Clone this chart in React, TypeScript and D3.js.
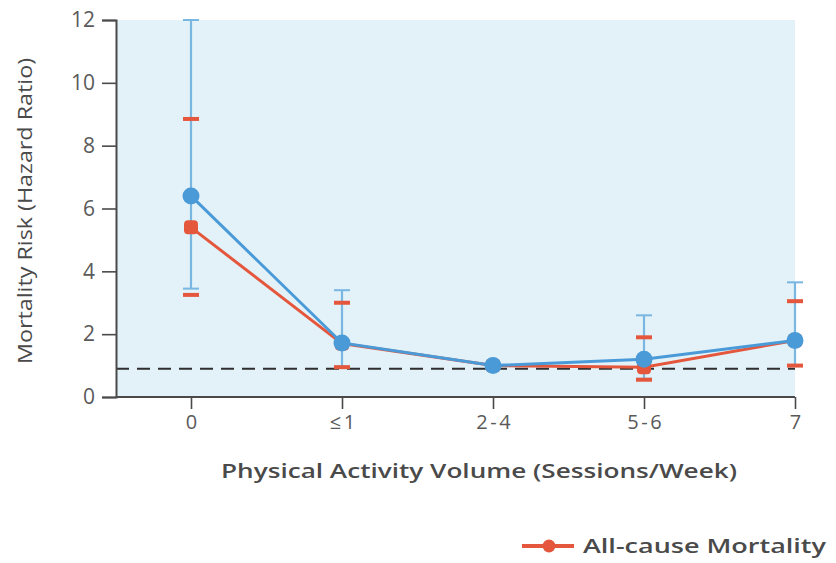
import React, { useEffect, useRef } from 'react';
import * as d3 from 'd3';

const categories = ['0', '≤1', '2-4', '5-6', '7'];
const yTicks = [0, 2, 4, 6, 8, 10, 12];

// red series (all-cause mortality)
const redHR = [5.4, 1.7, 1.0, 0.95, 1.8];
const redLow = [3.25, 0.95, null, 0.55, 1.0];
const redHigh = [8.85, 3.0, null, 1.9, 3.05];

// blue series
const blueHR = [6.4, 1.72, 1.0, 1.2, 1.8];
const blueLow = [3.45, 0.97, null, 0.58, 1.0];
const blueHigh = [12, 3.4, null, 2.6, 3.65];

const refLine = 0.9;

const W = 836;
const H = 563;

const RED = '#e4573d';
const BLUE = '#4b9ad8';
const BLUE_ERR = '#7ab6e2';
const AXIS = '#4a4a4a';
const FONT = '"Open Sans", "Noto Sans", sans-serif';

const App: React.FC = () => {
  const svgRef = useRef<SVGSVGElement | null>(null);

  useEffect(() => {
    if (!svgRef.current) return;
    const svg = d3.select(svgRef.current);
    svg.selectAll('*').remove();

    const x = d3.scalePoint<string>().domain(categories).range([191, 795]);
    const y = d3.scaleLinear().domain([0, 12]).range([397, 20]);

    // plot background
    svg
      .append('rect')
      .attr('x', 116)
      .attr('y', y(12))
      .attr('width', 795 - 116)
      .attr('height', y(0) - y(12))
      .attr('fill', '#e3f2f8');

    // reference line
    svg
      .append('line')
      .attr('x1', 116)
      .attr('x2', 795)
      .attr('y1', y(refLine))
      .attr('y2', y(refLine))
      .attr('stroke', '#2e2e2e')
      .attr('stroke-width', 1.8)
      .attr('stroke-dasharray', '13,8');

    // y axis
    const yAxis = svg
      .append('g')
      .attr('transform', 'translate(116,0)')
      .call(d3.axisLeft(y).tickValues(yTicks).tickSize(14).tickPadding(7));
    yAxis.select('.domain').attr('stroke', AXIS).attr('stroke-width', 2);
    yAxis.selectAll('.tick line').attr('stroke', AXIS).attr('stroke-width', 1.6);
    yAxis
      .selectAll('.tick text')
      .attr('fill', '#5a5a5a')
      .attr('font-size', 21)
      .attr('font-family', FONT);

    // x axis
    const xAxis = svg
      .append('g')
      .attr('transform', `translate(0,${y(0)})`)
      .call(d3.axisBottom(x).tickSize(12).tickPadding(6).tickSizeOuter(0));
    xAxis
      .select('.domain')
      .attr('d', `M116,0H795`)
      .attr('stroke', AXIS)
      .attr('stroke-width', 2);
    xAxis.selectAll('.tick line').attr('stroke', AXIS).attr('stroke-width', 1.6);
    xAxis
      .selectAll('.tick text')
      .attr('fill', '#5a5a5a')
      .attr('font-size', 20)
      .attr('letter-spacing', 2.5)
      .attr('dx', 1.25)
      .attr('font-family', FONT);

    // error bars
    const drawErr = (
      lows: (number | null)[],
      highs: (number | null)[],
      color: string,
      lineW: number,
      capW: number,
      capStroke: number,
      showStem: boolean
    ) => {
      const g = svg.append('g');
      categories.forEach((c, i) => {
        const lo = lows[i];
        const hi = highs[i];
        if (lo == null || hi == null) return;
        const cx = x(c)!;
        if (showStem) {
          g.append('line')
            .attr('x1', cx)
            .attr('x2', cx)
            .attr('y1', y(lo))
            .attr('y2', y(hi))
            .attr('stroke', color)
            .attr('stroke-width', lineW);
        }
        [lo, hi].forEach((v) => {
          g.append('line')
            .attr('x1', cx - capW / 2)
            .attr('x2', cx + capW / 2)
            .attr('y1', y(v))
            .attr('y2', y(v))
            .attr('stroke', color)
            .attr('stroke-width', capStroke);
        });
      });
    };

    drawErr(blueLow, blueHigh, BLUE_ERR, 2.2, 16, 2, true);
    drawErr(redLow, redHigh, RED, 2, 16, 4, false);

    const line = d3
      .line<number>()
      .x((_, i) => x(categories[i])!)
      .y((d) => y(d));

    svg
      .append('path')
      .attr('d', line(redHR))
      .attr('fill', 'none')
      .attr('stroke', RED)
      .attr('stroke-width', 3);
    svg
      .selectAll('.rdot')
      .data(redHR)
      .enter()
      .append('rect')
      .attr('x', (_, i) => x(categories[i])! - 7)
      .attr('y', (d) => y(d) - 7)
      .attr('width', 14)
      .attr('height', 14)
      .attr('rx', 4)
      .attr('fill', RED);

    svg
      .append('path')
      .attr('d', line(blueHR))
      .attr('fill', 'none')
      .attr('stroke', BLUE)
      .attr('stroke-width', 3);
    svg
      .selectAll('.bdot')
      .data(blueHR)
      .enter()
      .append('circle')
      .attr('cx', (_, i) => x(categories[i])!)
      .attr('cy', (d) => y(d))
      .attr('r', 8.5)
      .attr('fill', BLUE);

    // axis titles
    svg
      .append('text')
      .attr('x', 479)
      .attr('y', 478)
      .attr('text-anchor', 'middle')
      .attr('font-size', 20)
      .attr('font-weight', 600)
      .attr('font-family', FONT)
      .attr('fill', '#4a4a4a')
      .attr('textLength', 516)
      .attr('lengthAdjust', 'spacingAndGlyphs')
      .text('Physical Activity Volume (Sessions/Week)');

    svg
      .append('text')
      .attr('transform', 'translate(32,211) rotate(-90)')
      .attr('text-anchor', 'middle')
      .attr('font-size', 20)
      .attr('font-family', FONT)
      .attr('fill', '#4a4a4a')
      .attr('textLength', 306)
      .attr('lengthAdjust', 'spacingAndGlyphs')
      .text('Mortality Risk (Hazard Ratio)');

    // legend
    const lg = svg.append('g').attr('transform', 'translate(522,546)');
    lg.append('line')
      .attr('x1', 0)
      .attr('x2', 52)
      .attr('stroke', RED)
      .attr('stroke-width', 4);
    lg.append('circle').attr('cx', 27).attr('r', 6.5).attr('fill', RED);
    lg.append('text')
      .attr('x', 61)
      .attr('y', 7)
      .attr('font-size', 20)
      .attr('font-weight', 600)
      .attr('font-family', FONT)
      .attr('fill', '#4a4a4a')
      .attr('textLength', 243)
      .attr('lengthAdjust', 'spacingAndGlyphs')
      .text('All-cause Mortality');
  }, []);

  return (
    <svg
      ref={svgRef}
      width={W}
      height={H}
      style={{ position: 'absolute', left: 0, top: 0, background: '#fff' }}
    />
  );
};

export default App;
